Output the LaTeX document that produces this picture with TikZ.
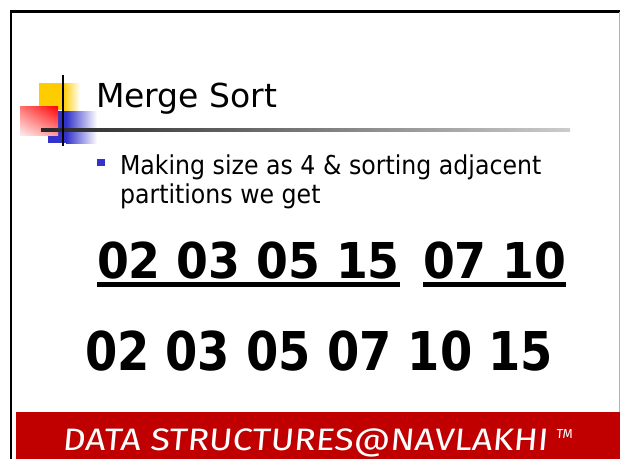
\documentclass[tikz,border=0pt]{standalone}
\usepackage{fontspec}
\setmainfont{DejaVu Sans}
\newfontfamily\footfont[FakeSlant=0.08]{Fira Sans}
\usetikzlibrary{calc,shadings}
\definecolor{barred}{HTML}{C00000}
\definecolor{bulletblue}{HTML}{3333CC}
\definecolor{logoyellow}{HTML}{FFCC00}
\definecolor{logoblue}{HTML}{3333CC}
\tikzset{
  txt/.style={inner sep=0pt, outer sep=0pt, anchor=base west},
  uline/.style={line width=4.5pt},
}
\begin{document}
\begin{tikzpicture}[x=1pt,y=-1pt]
  \useasboundingbox (0,0) rectangle (620,459);
  \fill[white] (0,0) rectangle (620,459);

  % slide frame
  \draw[line width=2.5pt] (11,459) -- (11,11.5) -- (620,11.5);
  \draw[gray!60, line width=1pt] (619,12) -- (619,412);

  % logo squares
  \fill[logoyellow] (39,83) rectangle (63,110);
  \shade[left color=logoyellow, right color=white] (63,83) rectangle (80,110);
  \fill[logoblue] (48,111) rectangle (66,143);
  \shade[left color=logoblue, right color=white] (66,111) rectangle (97,143);
  \shade[upper left=red!55, upper right=red, lower left=red!8, lower right=red!40]
    (20,106) rectangle (58,135);
  % logo rules
  \shade[left color=black!85, right color=black!20] (41,128.5) rectangle (570,131.5);
  \draw[line width=2pt] (63,75) -- (63,146);

  % title
  \node[txt, font=\fontsize{33}{40}\selectfont] (title) at (96,107) {Merge Sort};

  % bullet text
  \fill[bulletblue] (97,159) rectangle (105,166);
  \node[txt] (l1) at (120,174)
    {\scalebox{0.91}[1]{\fontsize{26}{31}\selectfont Making size as 4 \& sorting adjacent}};
  \node[txt] (l2) at (120,203)
    {\scalebox{0.91}[1]{\fontsize{26}{31}\selectfont partitions we get}};

  % partitions
  \node[txt] (p1) at (97,278)
    {\scalebox{0.927}[1]{\fontsize{49.4}{58}\selectfont\bfseries 02 03 05 15}};
  \node[txt] (p2) at (423,278)
    {\scalebox{0.927}[1]{\fontsize{49.4}{58}\selectfont\bfseries 07 10}};
  \draw[uline] ([yshift=-6.5pt]p1.base west) -- ([yshift=-6.5pt]p1.base east);
  \draw[uline] ([yshift=-6.5pt]p2.base west) -- ([yshift=-6.5pt]p2.base east);

  % merged result
  \node[txt] (res) at (85,370)
    {\scalebox{0.867}[1]{\fontsize{53.5}{62}\selectfont\bfseries 02 03 05 07 10 15}};

  % footer bar
  \fill[barred] (16,412) rectangle (620,459);
  \node[txt, text=white] (foot) at (62,450)
    {\scalebox{1.15}[1]{\footfont\fontsize{31}{36}\selectfont DATA STRUCTURES@NAVLAKHI}};
  \node[txt, text=white] (tm) at (556,438)
    {\footfont\fontsize{13}{14}\selectfont TM};
\end{tikzpicture}
\end{document}
